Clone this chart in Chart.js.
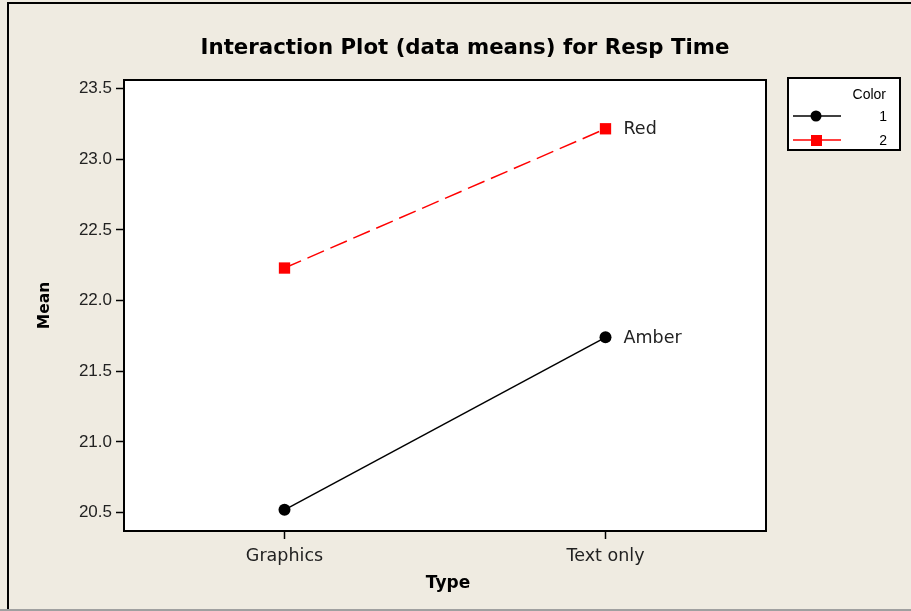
<!DOCTYPE html>
<html>
<head>
<meta charset="utf-8">
<script src="https://cdn.jsdelivr.net/npm/chart.js@4.4.1/dist/chart.umd.min.js"></script>
<style>
  html, body { margin: 0; padding: 0; background: #efebe1; }
  #wrap { width: 911px; height: 611px; }
</style>
</head>
<body>
<div id="wrap"><canvas id="chart" width="911" height="611"></canvas></div>
<script>
// Data
const types = ['Graphics', 'Text only'];
const amberMeans = [20.52, 21.74];   // Color 1
const redMeans = [22.23, 23.215];    // Color 2
const seriesNames = ['Amber', 'Red'];
const legendKeys = ['1', '2'];
const yTicks = [20.5, 21.0, 21.5, 22.0, 22.5, 23.0, 23.5];

const FONT = '"Liberation Sans", Arial, sans-serif';
const WIDE = '"DejaVu Sans", Verdana, sans-serif';

// Frame, white plot area, border, titles, legend and end labels
const decorPlugin = {
    id: 'decor',
    beforeDraw(chart) {
        const ctx = chart.ctx;
        const a = chart.chartArea;
        ctx.save();
        ctx.fillStyle = '#efebe1';
        ctx.fillRect(0, 0, chart.width, chart.height);
        // outer frame (cropped screenshot edges)
        ctx.strokeStyle = '#000';
        ctx.lineWidth = 2;
        ctx.beginPath();
        ctx.moveTo(8, 610);
        ctx.lineTo(8, 3);
        ctx.lineTo(911, 3);
        ctx.stroke();
        ctx.strokeStyle = '#a0a0a0';
        ctx.beginPath();
        ctx.moveTo(0, 610);
        ctx.lineTo(911, 610);
        ctx.stroke();
        // plot area
        ctx.fillStyle = '#fff';
        ctx.fillRect(a.left, a.top, a.right - a.left, a.bottom - a.top);
        ctx.restore();
    },
    afterDraw(chart) {
        const ctx = chart.ctx;
        const a = chart.chartArea;
        ctx.save();
        ctx.strokeStyle = '#000';
        ctx.lineWidth = 2;
        ctx.strokeRect(a.left, a.top, a.right - a.left, a.bottom - a.top);

        // title
        ctx.fillStyle = '#000';
        ctx.font = 'bold 21.3px ' + WIDE;
        ctx.textAlign = 'center';
        ctx.textBaseline = 'middle';
        ctx.fillText('Interaction Plot (data means) for Resp Time', 465, 48);

        // axis titles
        ctx.font = 'bold 17px ' + WIDE;
        ctx.fillText('Type', (a.left + a.right) / 2 + 3, 584);
        ctx.save();
        ctx.translate(45, (a.top + a.bottom) / 2);
        ctx.rotate(-Math.PI / 2);
        ctx.font = 'bold 15.5px ' + WIDE;
        ctx.fillText('Mean', 0, 0);
        ctx.restore();

        // end-of-line labels
        ctx.font = '17.5px ' + WIDE;
        ctx.textAlign = 'left';
        chart.data.datasets.forEach((ds, i) => {
            const meta = chart.getDatasetMeta(i);
            const last = meta.data[meta.data.length - 1];
            ctx.fillStyle = '#222';
            ctx.fillText(seriesNames[i], last.x + 18, last.y + 1);
        });

        // legend box
        ctx.fillStyle = '#fff';
        ctx.fillRect(788, 78, 112, 72);
        ctx.strokeStyle = '#000';
        ctx.lineWidth = 2;
        ctx.strokeRect(788, 78, 112, 72);
        ctx.fillStyle = '#000';
        ctx.font = '14px ' + FONT;
        ctx.textAlign = 'right';
        ctx.fillText('Color', 886, 95);
        chart.data.datasets.forEach((ds, i) => {
            const y = 116 + i * 24;
            ctx.strokeStyle = ds.borderColor;
            ctx.lineWidth = 1.5;
            ctx.beginPath();
            ctx.moveTo(793, y);
            ctx.lineTo(841, y);
            ctx.stroke();
            ctx.fillStyle = ds.pointBackgroundColor;
            if (ds.pointStyle === 'rect') {
                ctx.fillRect(811, y - 5, 11, 11);
            } else {
                ctx.beginPath();
                ctx.arc(816, y, 5.5, 0, Math.PI * 2);
                ctx.fill();
            }
            ctx.fillStyle = '#000';
            ctx.fillText(legendKeys[i], 887, y + 1);
        });
        ctx.restore();
    }
};

new Chart(document.getElementById('chart').getContext('2d'), {
    type: 'line',
    data: {
        datasets: [{
            label: '1',
            data: amberMeans.map((v, i) => ({ x: i, y: v })),
            borderColor: '#000',
            borderWidth: 1.5,
            pointStyle: 'circle',
            pointRadius: 6,
            pointBackgroundColor: '#000',
            pointBorderColor: '#000',
            pointBorderWidth: 0
        }, {
            label: '2',
            data: redMeans.map((v, i) => ({ x: i, y: v })),
            borderColor: '#ff0000',
            borderWidth: 1.5,
            borderDash: [18, 7],
            pointStyle: 'rect',
            pointRadius: 8,
            pointBackgroundColor: '#ff0000',
            pointBorderColor: '#ff0000',
            pointBorderWidth: 0
        }]
    },
    options: {
        responsive: false,
        animation: false,
        events: [],
        layout: { padding: { left: 0, top: 80, right: 145, bottom: 0 } },
        plugins: {
            legend: { display: false },
            title: { display: false },
            tooltip: { enabled: false }
        },
        scales: {
            x: {
                type: 'linear',
                min: -0.5,
                max: 1.5,
                afterBuildTicks: scale => { scale.ticks = types.map((t, i) => ({ value: i })); },
                afterFit: scale => { scale.height = 80; },
                grid: { drawOnChartArea: false, tickLength: 8, tickColor: '#000', tickWidth: 1.5 },
                border: { display: false },
                ticks: {
                    color: '#222',
                    font: { family: WIDE, size: 17.5 },
                    padding: 7,
                    maxRotation: 0,
                    callback: value => types[value]
                }
            },
            y: {
                min: 20.37,
                max: 23.56,
                afterBuildTicks: scale => { scale.ticks = yTicks.map(v => ({ value: v })); },
                afterFit: scale => { scale.width = 124; },
                grid: { drawOnChartArea: false, tickLength: 8, tickColor: '#000', tickWidth: 1.5 },
                border: { display: false },
                ticks: {
                    color: '#222',
                    font: { family: FONT, size: 17 },
                    padding: 4,
                    callback: value => value.toFixed(1)
                }
            }
        }
    },
    plugins: [decorPlugin]
});
</script>
</body>
</html>
